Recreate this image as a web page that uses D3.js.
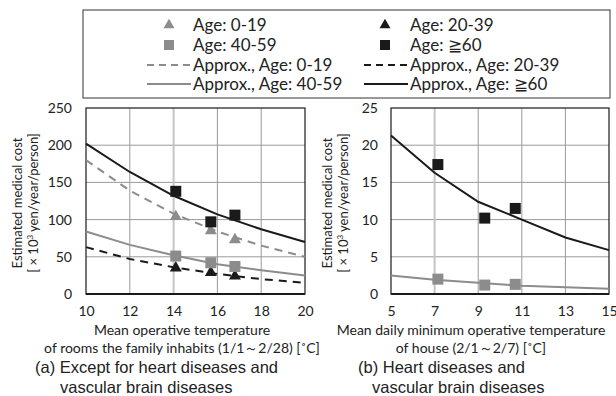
<!DOCTYPE html>
<html>
<head>
<meta charset="utf-8">
<script src="https://cdn.jsdelivr.net/npm/d3@7"></script>
<style>
  body { margin: 0; background: #fff; }
  text { font-family: Lato, "Open Sans", sans-serif; fill: #222; }
  .cap { font-family: "Liberation Sans", Arial, sans-serif; }
</style>
</head>
<body>
<div id="chart"></div>
<script>
// ---- data ----
// (a) except heart / vascular brain diseases
const aPtsX = [14.1, 15.7, 16.8];
const aAge0 = [104, 85, 73];
const aAge20 = [35, 29, 24];
const aAge40 = [51, 42, 37];
const aAge60 = [138, 97, 106];
const aFitX = [10, 12, 14, 16, 18, 20];
const aFit0 = [180, 139, 108, 84, 65, 50];
const aFit20 = [63, 47, 36, 27, 20, 15];
const aFit40 = [84, 66, 52, 40, 32, 25];
const aFit60 = [202, 164, 132, 107, 87, 70];

// (b) heart diseases and vascular brain diseases
const bPtsX = [7.15, 9.3, 10.7];
const bAge40 = [2.0, 1.2, 1.3];
const bAge60 = [17.4, 10.2, 11.5];
const bFitX = [5, 7, 9, 11, 13, 15];
const bFit40 = [2.5, 1.9, 1.5, 1.1, 0.9, 0.7];
const bFit60 = [21.3, 16.3, 12.4, 10.0, 7.6, 5.9];

const aTicksX = [10, 12, 14, 16, 18, 20];
const aTicksY = [0, 50, 100, 150, 200, 250];
const bTicksX = [5, 7, 9, 11, 13, 15];
const bTicksY = [0, 5, 10, 15, 20, 25];

const GRAY = "#8c8c8c", BLACK = "#1a1a1a";

const width = 616, height = 396;
const svg = d3.select("#chart").append("svg")
    .attr("width", width)
    .attr("height", height);

// ---- legend ----
svg.append("rect")
    .attr("x", 83).attr("y", 10).attr("width", 527).attr("height", 88)
    .attr("fill", "none").attr("stroke", "#333").attr("stroke-width", 1);

const legendItems = [
    {label: "Age: 0-19", kind: "tri", color: GRAY},
    {label: "Age: 20-39", kind: "tri", color: BLACK},
    {label: "Age: 40-59", kind: "sq", color: GRAY},
    {label: "Age: ≧60", kind: "sq", color: BLACK},
    {label: "Approx., Age: 0-19", kind: "dash", color: GRAY},
    {label: "Approx., Age: 20-39", kind: "dash", color: BLACK},
    {label: "Approx., Age: 40-59", kind: "line", color: GRAY},
    {label: "Approx., Age: ≧60", kind: "line", color: BLACK}
];
const rowY = [25, 45, 65, 84];
const colX = [[147, 169, 193], [364, 385, 410]];   // [line start, symbol centre, text x]

legendItems.forEach(function(d, i){
    const r = Math.floor(i / 2), c = i % 2;
    const y = rowY[r];
    const g = svg.append("g");
    if(d.kind == "tri" || d.kind == "sq"){
        g.append("path")
            .attr("d", d3.symbol().type(d.kind == "tri" ? d3.symbolTriangle : d3.symbolSquare).size(d.kind == "tri" ? 52 : 100)())
            .attr("transform", `translate(${colX[c][1]},${y})`)
            .attr("fill", d.color);
    } else {
        g.append("line")
            .attr("x1", colX[c][0]).attr("x2", colX[c][2] - 2)
            .attr("y1", y).attr("y2", y)
            .attr("stroke", d.color).attr("stroke-width", 2)
            .attr("stroke-dasharray", d.kind == "dash" ? "7,5" : null);
    }
    g.append("text")
        .attr("x", colX[c][2]).attr("y", y)
        .attr("dy", "0.35em")
        .style("font-size", "17px")
        .text(d.label);
});

// ---- panel builder ----
function panel(opt){
    const x = d3.scaleLinear().domain(opt.xDomain).range([opt.left, opt.right]);
    const y = d3.scaleLinear().domain(opt.yDomain).range([294, 108]);
    const g = svg.append("g");

    // grid
    g.selectAll(".hgrid").data(opt.ticksY.slice(1, -1)).join("line")
        .attr("x1", opt.left).attr("x2", opt.right)
        .attr("y1", d => y(d)).attr("y2", d => y(d))
        .attr("stroke", "#9a9a9a").attr("stroke-width", 1);
    g.selectAll(".vgrid").data(opt.ticksX.slice(1, -1)).join("line")
        .attr("x1", d => x(d)).attr("x2", d => x(d))
        .attr("y1", y(opt.yDomain[0])).attr("y2", y(opt.yDomain[1]))
        .attr("stroke", d => d == opt.lightX ? "#c4c4c4" : "#9a9a9a")
        .attr("stroke-width", d => d == opt.lightX ? 2 : 1);

    // frame
    g.append("rect")
        .attr("x", opt.left).attr("y", 108)
        .attr("width", opt.right - opt.left).attr("height", 186)
        .attr("fill", "none").attr("stroke", BLACK).attr("stroke-width", 1.2);
    g.append("line")
        .attr("x1", opt.left).attr("x2", opt.right)
        .attr("y1", 294).attr("y2", 294)
        .attr("stroke", BLACK).attr("stroke-width", 2);

    // axes labels
    const xAxis = d3.axisBottom(x).tickValues(opt.ticksX).tickSize(0).tickPadding(12);
    const ax = g.append("g").attr("transform", "translate(0,294)").call(xAxis);
    ax.select(".domain").remove();
    ax.selectAll("text").style("font-size", "14px").attr("fill", "#222");

    const yAxis = d3.axisLeft(y).tickValues(opt.ticksY).tickSize(0).tickPadding(opt.yPad);
    const ay = g.append("g").attr("transform", `translate(${opt.left},0)`).call(yAxis);
    ay.select(".domain").remove();
    ay.selectAll("text").style("font-size", "14px").attr("fill", "#222");

    // y title
    const yt = g.append("text")
        .attr("transform", `translate(${opt.yTitleX},203) rotate(-90)`)
        .attr("text-anchor", "middle")
        .style("font-size", "13px");
    yt.append("tspan").attr("x", 0).attr("dy", 0).text("Estimated medical cost");
    const t2 = yt.append("tspan").attr("x", 0).attr("dy", 15.5);
    t2.append("tspan").text("[ × 10");
    t2.append("tspan").attr("dy", -5).style("font-size", "8px").text("3");
    t2.append("tspan").attr("dy", 5).text(" yen/year/person]");

    // x title
    opt.xTitle.forEach(function(s, i){
        g.append("text")
            .attr("x", opt.xTitleX).attr("y", 330 + i * 18.5)
            .attr("dy", "0.35em")
            .attr("text-anchor", "middle")
            .style("font-size", "14px")
            .text(s);
    });

    // caption
    opt.caption.forEach(function(s, i){
        g.append("text")
            .attr("class", "cap")
            .attr("x", opt.capX[i]).attr("y", 367 + i * 20)
            .attr("dy", "0.35em")
            .style("font-size", "16.5px")
            .text(s);
    });

    // curves
    const line = d3.line().x(d => x(d[0])).y(d => y(d[1]));
    opt.fits.forEach(function(f){
        g.append("path")
            .datum(opt.fitX.map((v, i) => [v, f.values[i]]))
            .attr("d", line)
            .attr("fill", "none")
            .attr("stroke", f.color)
            .attr("stroke-width", 2)
            .attr("stroke-dasharray", f.dash ? "8,6" : null);
    });

    // points
    opt.pts.forEach(function(p){
        g.selectAll(null)
            .data(opt.ptsX.map((v, i) => [v, p.values[i]]))
            .join("path")
            .attr("d", d3.symbol().type(p.kind == "tri" ? d3.symbolTriangle : d3.symbolSquare).size(p.kind == "tri" ? 62 : 121)())
            .attr("transform", d => `translate(${x(d[0])},${y(d[1])})`)
            .attr("fill", p.color);
    });
}

panel({
    left: 86, right: 305,
    xDomain: [10, 20], yDomain: [0, 250],
    ticksX: aTicksX, ticksY: aTicksY, lightX: 14,
    yPad: 14, yTitleX: 22, xTitleX: 182,
    xTitle: ["Mean operative temperature", "of rooms the family inhabits (1/1～2/28) [˚C]"],
    caption: ["(a) Except for heart diseases and", "vascular brain diseases"],
    capX: [35, 60],
    fitX: aFitX,
    fits: [
        {values: aFit0, color: GRAY, dash: true},
        {values: aFit20, color: BLACK, dash: true},
        {values: aFit40, color: GRAY, dash: false},
        {values: aFit60, color: BLACK, dash: false}
    ],
    ptsX: aPtsX,
    pts: [
        {values: aAge0, kind: "tri", color: GRAY},
        {values: aAge20, kind: "tri", color: BLACK},
        {values: aAge40, kind: "sq", color: GRAY},
        {values: aAge60, kind: "sq", color: BLACK}
    ]
});

panel({
    left: 391, right: 609,
    xDomain: [5, 15], yDomain: [0, 25],
    ticksX: bTicksX, ticksY: bTicksY, lightX: 7,
    yPad: 13, yTitleX: 332, xTitleX: 471,
    xTitle: ["Mean daily minimum operative temperature", "of house (2/1～2/7) [˚C]"],
    caption: ["(b) Heart diseases and", "vascular brain diseases"],
    capX: [358, 372],
    fitX: bFitX,
    fits: [
        {values: bFit40, color: GRAY, dash: false},
        {values: bFit60, color: BLACK, dash: false}
    ],
    ptsX: bPtsX,
    pts: [
        {values: bAge40, kind: "sq", color: GRAY},
        {values: bAge60, kind: "sq", color: BLACK}
    ]
});
</script>
</body>
</html>
